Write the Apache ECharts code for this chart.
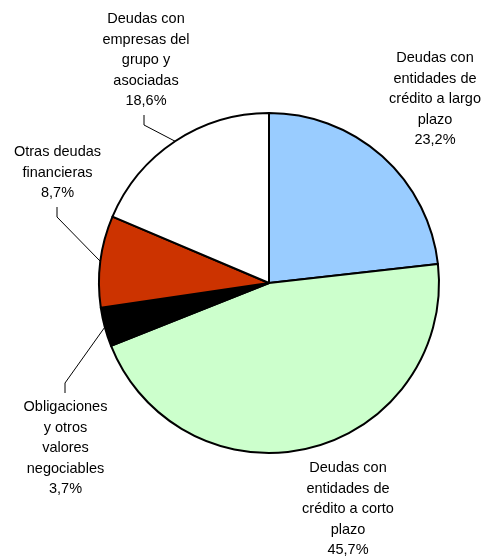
<!DOCTYPE html>
<html><head><meta charset="utf-8">
<script src="https://cdn.jsdelivr.net/npm/echarts@6/dist/echarts.min.js"></script>
<style>html,body{margin:0;padding:0;background:#fff}#c{width:487px;height:560px}</style>
</head><body><div id="c"></div>
<script>
var categories = [
  'Deudas con\nentidades de\ncrédito a largo\nplazo',
  'Deudas con\nentidades de\ncrédito a corto\nplazo',
  'Obligaciones\ny otros\nvalores\nnegociables',
  'Otras deudas\nfinancieras',
  'Deudas con\nempresas del\ngrupo y\nasociadas'
];
var values = [23.2, 45.7, 3.7, 8.7, 18.6];
var colors = ['#99CCFF', '#CCFFCC', '#000000', '#CC3300', '#FFFFFF'];
var withLine = [false, false, true, true, true];

// label layout (center x, top y of text block) and leader-line elbow/end
var LH = 20.6;
var labelPos = [[435, 58 - LH/2], [348, 468 - LH/2], [65.5, 407 - LH/2], [57.5, 152 - LH/2], [146, 19 - LH/2]];
var leader = [null, null, [[65, 383], [65, 393]], [[57, 217], [57, 207]], [[144, 125], [144, 115]]];

var chart = echarts.init(document.getElementById('c'));
chart.setOption({
  animation: false,
  series: [{
    type: 'pie',
    center: [269, 283],
    radius: 170,
    startAngle: 90,
    clockwise: true,
    avoidLabelOverlap: false,
    itemStyle: { borderColor: '#000', borderWidth: 2 },
    emphasis: { disabled: true },
    label: {
      show: true,
      position: 'outside',
      fontFamily: 'Liberation Sans, Arial, sans-serif',
      fontSize: 14.5,
      lineHeight: LH,
      color: '#000',
      align: 'center',
      formatter: function (p) {
        return p.name + '\n' + p.value.toFixed(1).replace('.', ',') + '%';
      }
    },
    labelLine: { show: true, length: 5, length2: 5, smooth: false, lineStyle: { color: '#000', width: 1 } },
    labelLayout: function (params) {
      var i = params.dataIndex;
      var r = { x: labelPos[i][0], y: labelPos[i][1], align: 'center', verticalAlign: 'top' };
      if (leader[i] && params.labelLinePoints) {
        r.labelLinePoints = [params.labelLinePoints[0], leader[i][0], leader[i][1]];
      }
      return r;
    },
    data: categories.map(function (c, i) {
      return {
        name: c, value: values[i],
        itemStyle: { color: colors[i] },
        labelLine: { show: withLine[i] }
      };
    })
  }]
});
</script></body></html>
